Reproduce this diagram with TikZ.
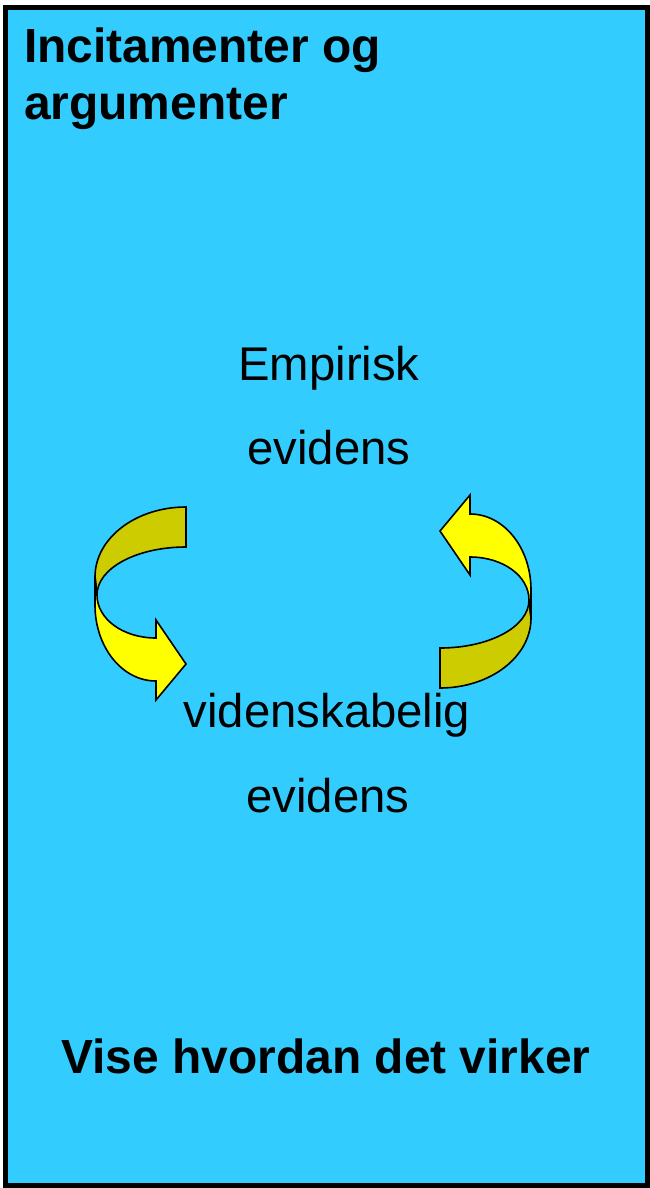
\documentclass[tikz,border=0pt]{standalone}
\usepackage{fontspec}
\setmainfont{Liberation Sans}
\definecolor{bgblue}{HTML}{33CCFF}
\definecolor{ribbonlight}{HTML}{FFFF00}
\definecolor{ribbondark}{HTML}{CCCC00}
\tikzset{
  bigbold/.style={font=\fontsize{47.9}{56}\selectfont\bfseries, inner sep=0pt},
  bigreg/.style={font=\fontsize{47.3}{56}\selectfont, inner sep=0pt},
  ribbonline/.style={draw=black, line width=1.6pt, line join=miter},
  ribbon/.pic={
    \filldraw[ribbonline, fill=ribbondark]
      (186,507) .. controls (136,507) and (95,538) .. (95,577)
      -- (97,595) .. controls (97,568) and (137,547) .. (186,547) -- cycle;
    \filldraw[ribbonline, fill=ribbonlight]
      (95,577) -- (95,605) .. controls (95,647) and (122,681) .. (156,681)
      -- (156,700) -- (186,664) -- (156,620) -- (156,638)
      .. controls (123,638) and (97,619) .. (97,595) -- cycle;
  }
}
\begin{document}
\begin{tikzpicture}[x=1pt,y=-1pt]
  \useasboundingbox (0,0) rectangle (650,1188);
  \draw[fill=bgblue, line width=5pt] (5.5,8) rectangle (647.5,1185.5);
  \node[bigbold, anchor=base west] (title1) at (24,63) {Incitamenter og};
  \node[bigbold, anchor=base west] (title2) at (24,120) {argumenter};
  \node[bigreg, anchor=base] (emp1) at (329,380) {Empirisk};
  \node[bigreg, anchor=base] (emp2) at (329,464) {evidens};
  \node[bigreg, anchor=base] (vid1) at (327,727) {videnskabelig};
  \node[bigreg, anchor=base] (vid2) at (328,812) {evidens};
  \node[bigbold, anchor=base] (vise) at (326,1073) {Vise hvordan det virker};
  \pic at (0,0) {ribbon};
  \pic[rotate=180] at (626,1195) {ribbon};
\end{tikzpicture}
\end{document}
